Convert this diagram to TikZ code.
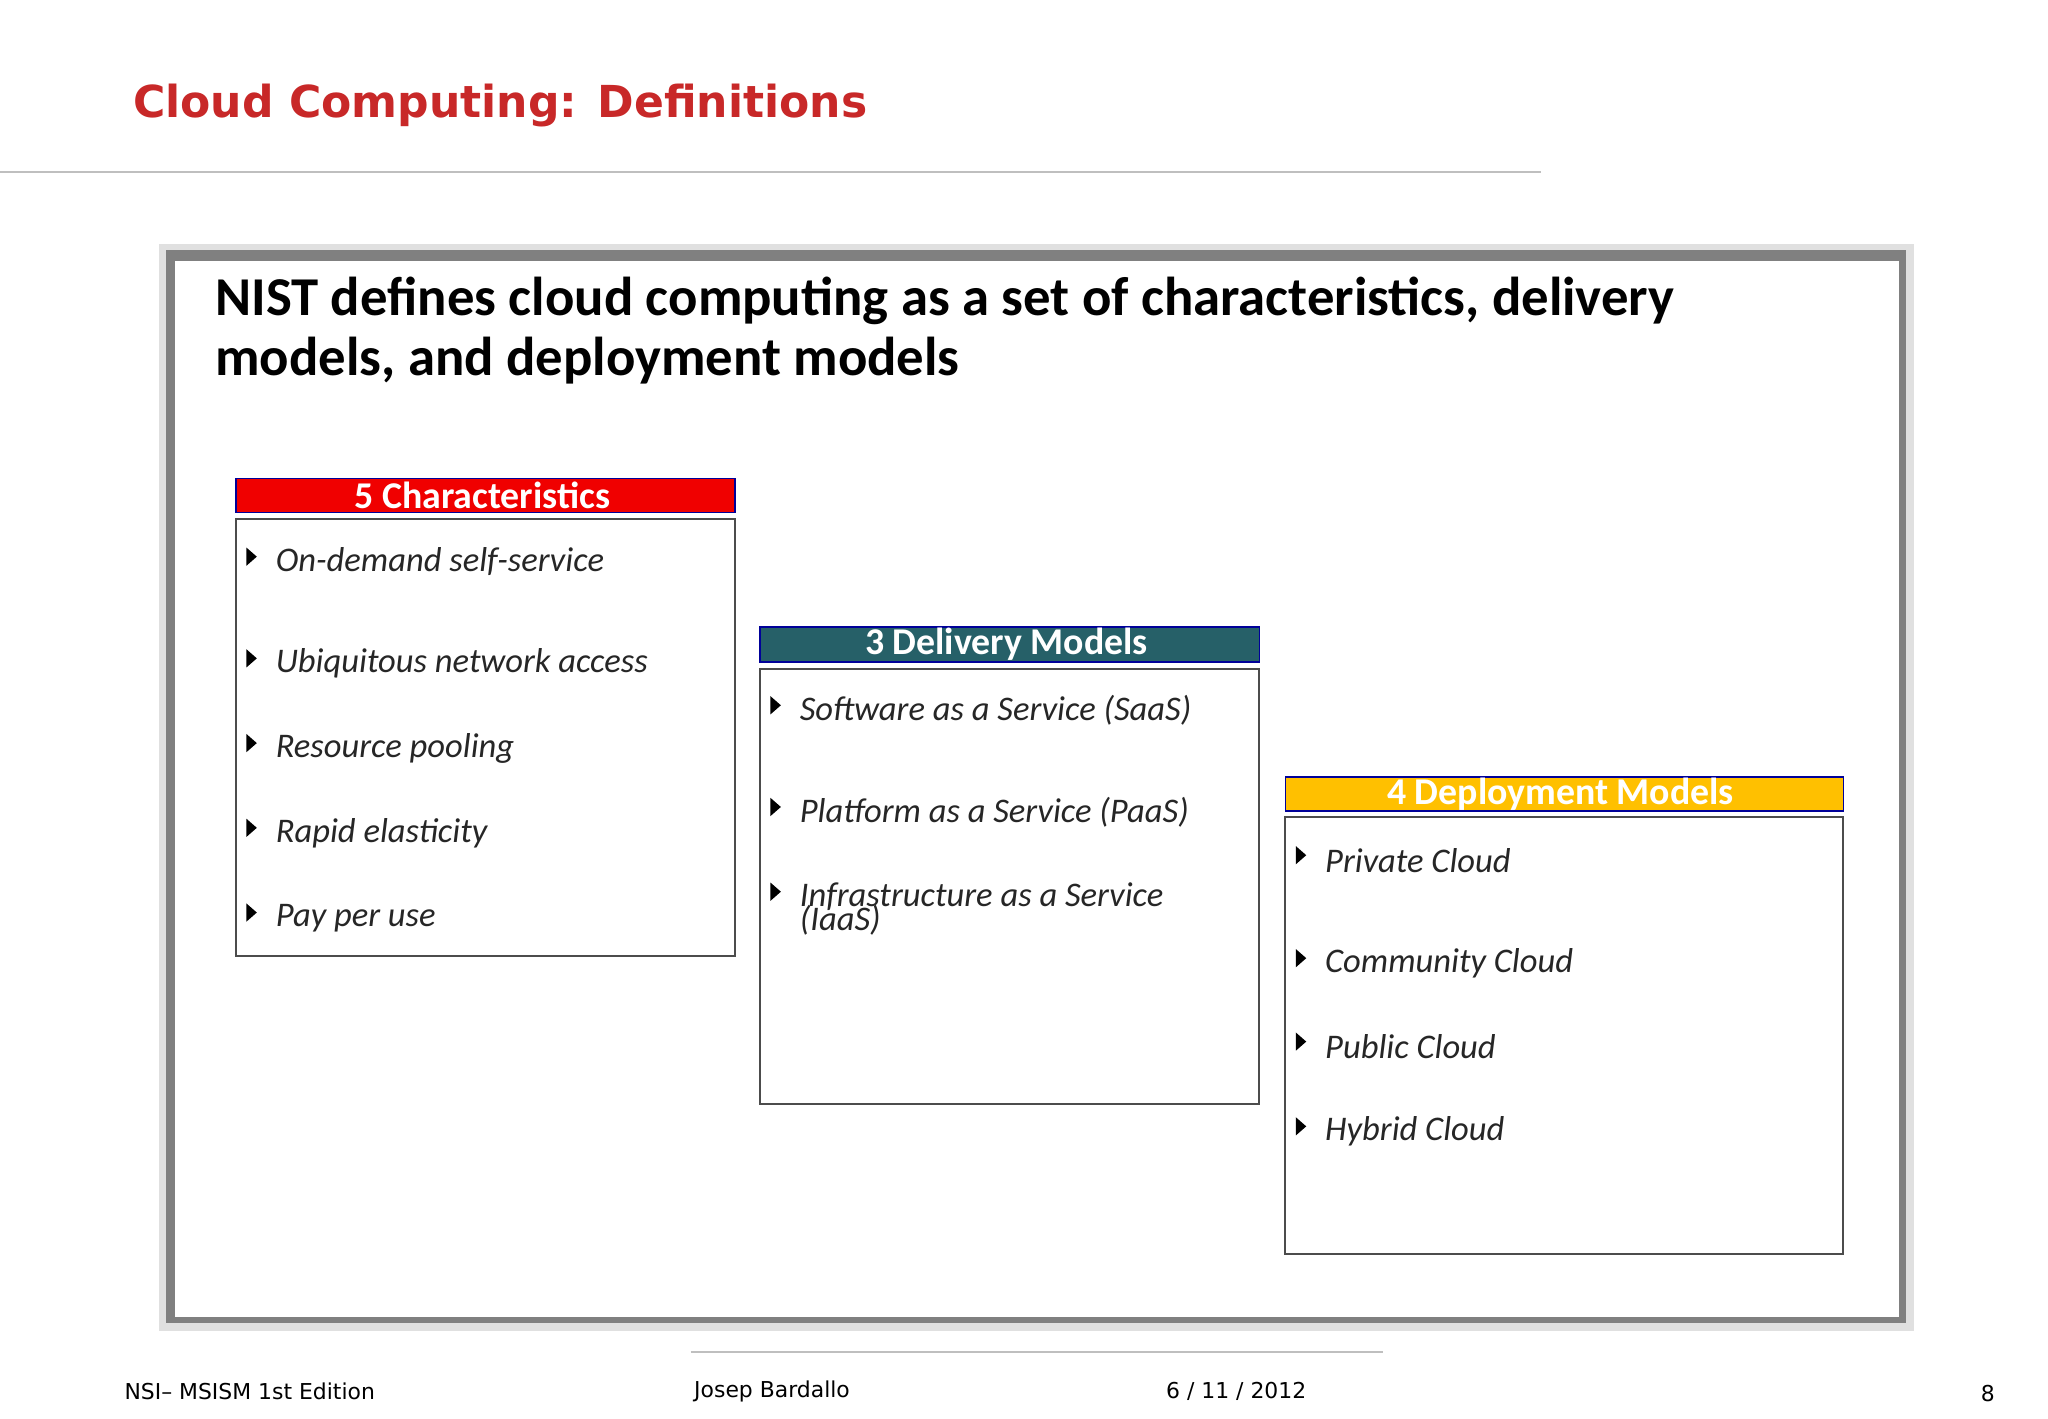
\documentclass[tikz,border=0pt]{standalone}
\usepackage{fontspec}
\setmainfont{Carlito}
\newfontfamily\verd{DejaVu Sans}
\begin{document}
\begin{tikzpicture}[x=1pt,y=-1pt,
  hdr/.style={draw=blue!60!black,line width=1.2pt,font=\fontsize{29}{29}\selectfont\bfseries,text=white},
  bodybox/.style={draw=black!70,line width=1.5pt,fill=white},
  item/.style={anchor=west,font=\fontsize{26.5}{20}\selectfont\itshape,text=black!85,align=left},
  bul/.style={fill=black,draw=none},
  foot/.style={anchor=west,font=\verd\fontsize{16.8}{16.8}\selectfont}]
\useasboundingbox (0,0) rectangle (1571,1088);
\fill[white] (0,0) rectangle (1571,1088);
\node[anchor=base west,inner sep=0,text={rgb,255:red,200;green,40;blue,40},font=\verd\fontsize{33.8}{33.8}\selectfont\bfseries] (title) at (102,90) {Cloud Computing: Definitions};
\draw[black!25,line width=1pt] (0,132) coordinate (l1) -- (1182,132) coordinate (l2);
% screenshot frame
\fill[black!12] (122,187) rectangle (1468,1021);
\fill[black!50] (127,192) rectangle (1462,1015);
\fill[white] (134,200) rectangle (1457,1010);
\node[anchor=north west,inner sep=0,align=left,font=\fontsize{42}{46}\selectfont\bfseries] (head) at (165,212) {NIST defines cloud computing as a set of characteristics, delivery\\models, and deployment models};
% box 1
\draw[hdr,fill={rgb,255:red,240;green,0;blue,0}] (181,367) rectangle (564,393);
\node[hdr,draw=none] (h1) at (370,380) {5 Characteristics};
\draw[bodybox] (181,398) rectangle (564,733);
\foreach \y/\t in {431/On-demand self-service,509/Ubiquitous network access,574/Resource pooling,639/Rapid elasticity,704/Pay per use}{
  \fill[bul] (189,\y-11) -- (197,\y-4) -- (189,\y+3) -- cycle;
  \node[item] at (208,\y) {\t};}
% box 2
\draw[hdr,fill={rgb,255:red,38;green,96;blue,104}] (583,481) rectangle (966,508);
\node[hdr,draw=none] (h2) at (772,494) {3 Delivery Models};
\draw[bodybox] (583,513) rectangle (966,847);
\foreach \y/\t in {545/Software as a Service (SaaS),623/Platform as a Service (PaaS),688/Infrastructure as a Service}{
  \fill[bul] (591,\y-11) -- (599,\y-4) -- (591,\y+3) -- cycle;
  \node[item] at (610,\y) {\t};}
\node[item] at (610,706) {(IaaS)};
% box 3
\draw[hdr,fill={rgb,255:red,255;green,192;blue,0}] (986,596) rectangle (1414,622);
\node[hdr,draw=none] (h3) at (1197,609) {4 Deployment Models};
\draw[bodybox] (986,627) rectangle (1414,962);
\foreach \y/\t in {660/Private Cloud,739/Community Cloud,803/Public Cloud,868/Hybrid Cloud}{
  \fill[bul] (994,\y-11) -- (1002,\y-4) -- (994,\y+3) -- cycle;
  \node[item] at (1013,\y) {\t};}
% footer
\draw[black!25,line width=1pt] (530,1037) coordinate (f1) -- (1061,1037) coordinate (f2);
\node[foot] (fa) at (92,1067) {NSI– MSISM 1st Edition};
\node[foot] (fb) at (529,1067) {Josep Bardallo};
\node[foot] (fc) at (891,1067) {6 / 11 / 2012};
\node[foot] (fd) at (1516,1069) {8};
\end{tikzpicture}
\end{document}
